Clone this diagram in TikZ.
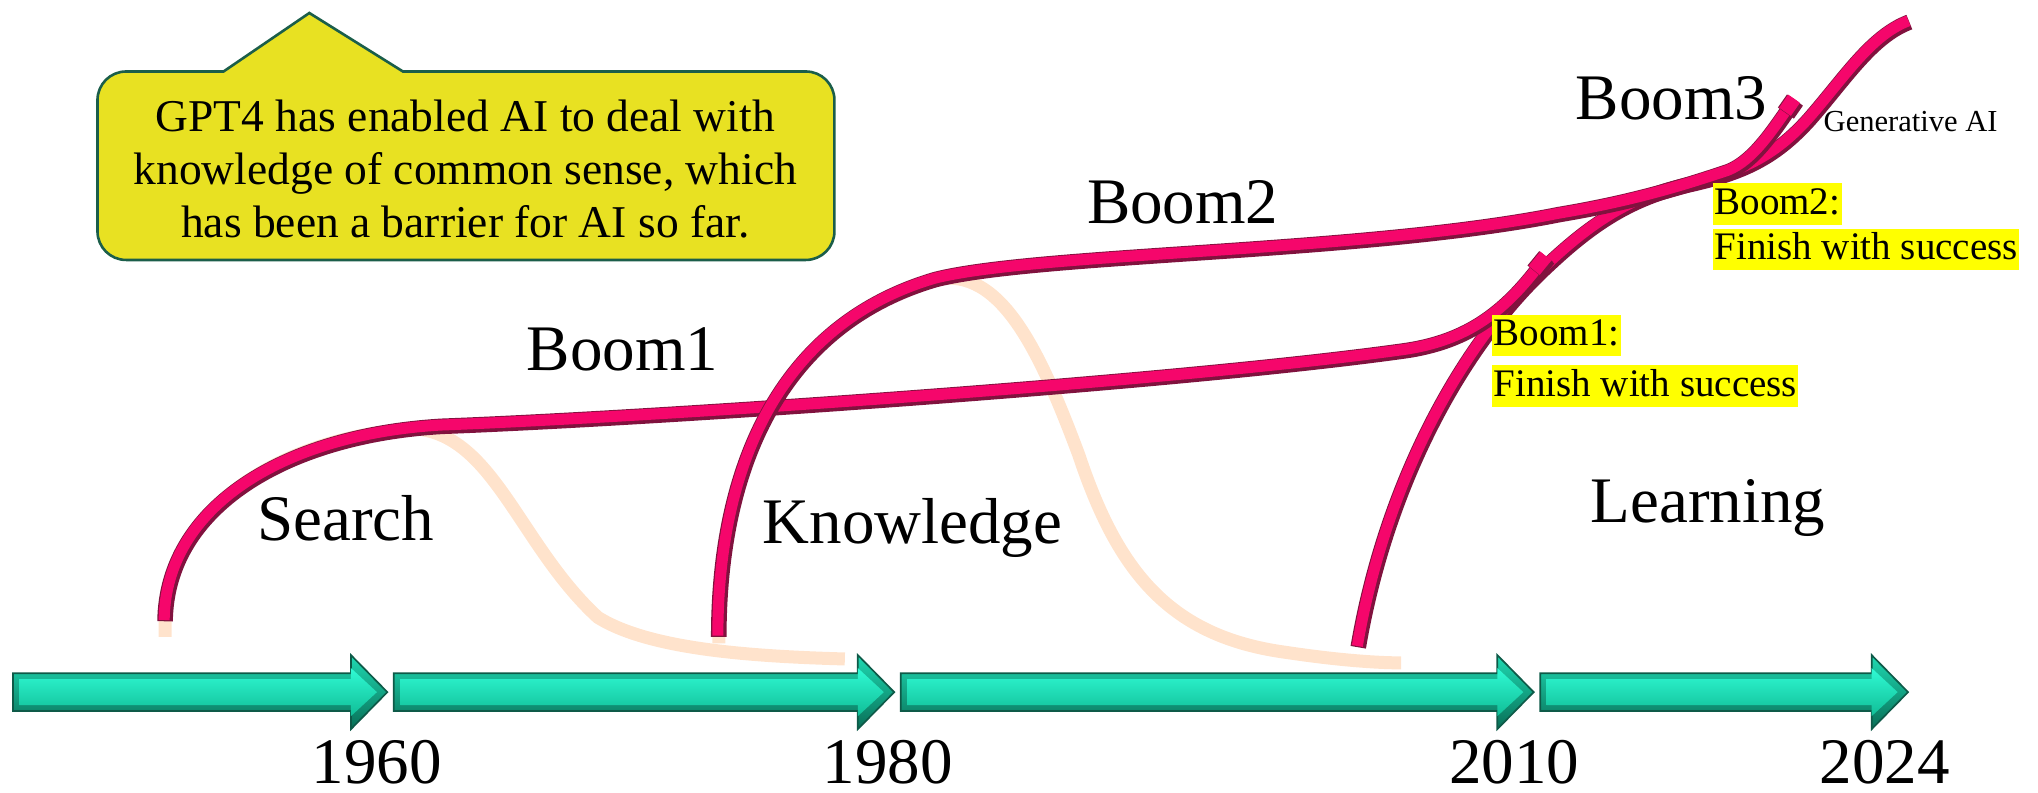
\documentclass[tikz,border=0pt]{standalone}
\usepackage{fontspec}
\setmainfont{Liberation Serif}
\definecolor{tubedark}{HTML}{80123E}
\definecolor{tubepink}{HTML}{F5066B}
\definecolor{peach}{HTML}{FFE3CC}
\definecolor{arrowline}{HTML}{0E5A48}
\definecolor{arrowouttop}{HTML}{1FD9B2}
\definecolor{arrowoutbot}{HTML}{086E56}
\definecolor{arrowtop}{HTML}{30FAD4}
\definecolor{arrowmid}{HTML}{22E6BE}
\definecolor{arrowbot}{HTML}{10BD96}
\definecolor{calloutfill}{HTML}{E8E122}
\definecolor{calloutline}{HTML}{1B5E4A}
\definecolor{hl}{HTML}{FFFF00}
\newcommand\tlarrow[2]{%
  \path[timearrow] (#1,518) -- ({#2-28},518) -- ({#2-28},504) -- (#2,532.5)
    -- ({#2-28},561) -- ({#2-28},547) -- (#1,547) -- cycle;
  \path[timeface] ({#1+5},522.5) -- ({#2-28},522.5) -- ({#2-28},514) -- ({#2-8},532.5)
    -- ({#2-28},551) -- ({#2-28},542.5) -- ({#1+5},542.5) -- cycle;}
\begin{document}
\begin{tikzpicture}[x=1pt,y=-1pt,
  tube/.style={draw=tubedark,line width=12pt,
    postaction={draw=tubepink,line width=8.5pt,transform canvas={shift={(-0.7,-1)}}}},
  tubecap/.style={draw=tubedark,line width=15pt,
    postaction={draw=tubepink,line width=11pt,transform canvas={shift={(-0.7,-1)}}}},
  shadowline/.style={draw=peach,line width=10pt},
  timearrow/.style={draw=arrowline,line width=1.3pt,top color=arrowouttop,
    bottom color=arrowoutbot},
  timeface/.style={top color=arrowtop,middle color=arrowmid,bottom color=arrowbot},
  big/.style={font=\fontsize{50}{60}\selectfont,inner sep=0pt},
  hlbox/.style={fill=hl,inner sep=1pt,text height=23pt,text depth=7pt,
    font=\fontsize{30}{34}\selectfont},
  callout/.style={fill=calloutfill,draw=calloutline,line width=2pt}
]
\useasboundingbox (0,0) rectangle (1568,610);

% timeline
\tlarrow{10}{298}
\tlarrow{303}{688}
\tlarrow{693}{1180}
\tlarrow{1185}{1468}

% peach shadows
\draw[shadowline] (127,490) -- (127,478) .. controls (128,390) and (220,335) .. (320,330)
  .. controls (380,335) and (400,420) .. (460,475) .. controls (500,500) and (580,505) .. (650,507);
\draw[shadowline] (553,495) .. controls (553,360) and (600,250) .. (720,215)
  .. controls (770,205) and (800,270) .. (830,350) .. controls (860,440) and (900,490) .. (990,502)
  .. controls (1030,508) and (1060,510) .. (1078,510);

% tubes
\path[tube] (1045,498) .. controls (1065,380) and (1120,270) .. (1190,205)
  .. controls (1225,172) and (1255,152) .. (1300,142)
  .. controls (1340,133) and (1365,122) .. (1392,92)
  .. controls (1420,60) and (1440,28) .. (1469,17);
\path[tube] (127,478) .. controls (128,390) and (220,335) .. (340,328)
  .. controls (500,322) and (900,295) .. (1080,270)
  .. controls (1130,263) and (1160,240) .. (1190,198);
\path[tubecap] (1181,209) -- (1190,198);
\path[tube] (553,490) .. controls (553,360) and (600,250) .. (720,215)
  .. controls (800,195) and (1050,195) .. (1200,165)
  .. controls (1260,155) and (1300,142) .. (1330,132)
  .. controls (1350,124) and (1365,100) .. (1381,77);
\path[tubecap] (1374,87) -- (1381,77);

% callout
\draw[callout] (172,55) [rounded corners=22] -- (75,55) -- (75,200) -- (642,200)
  -- (642,55) [sharp corners] -- (310,55) -- (238,10) -- cycle;
\node[font=\fontsize{35}{41}\selectfont,align=center,inner sep=0pt] (callouttext) at (358,130)
  {GPT4 has enabled AI to deal with\\knowledge of common sense, which\\has been a barrier for AI so far.};

% big labels
\node[big,anchor=base] (search) at (266,416) {Search};
\node[big,anchor=base] (knowledge) at (702,418) {Knowledge};
\node[big,anchor=base] (learning) at (1314,402) {Learning};
\node[big,anchor=base] (boom1) at (479,285) {Boom1};
\node[big,anchor=base] (boom2) at (910,172) {Boom2};
\node[big,anchor=base] (boom3) at (1286,92) {Boom3};
\node[font=\fontsize{23.5}{28}\selectfont,anchor=base,inner sep=0pt] (genai) at (1470,101) {Generative AI};

% highlighted labels
\node[hlbox,anchor=base west] (b1a) at (1148,266) {Boom1:};
\node[hlbox,anchor=base west] (b1b) at (1148,305) {Finish with success};
\node[hlbox,anchor=base west] (b2a) at (1318,165) {Boom2:};
\node[hlbox,anchor=base west] (b2b) at (1318,200) {Finish with success};

% years
\node[big,anchor=base] (y1960) at (290,603) {1960};
\node[big,anchor=base] (y1980) at (683,603) {1980};
\node[big,anchor=base] (y2010) at (1165,603) {2010};
\node[big,anchor=base] (y2024) at (1450,603) {2024};
\end{tikzpicture}
\end{document}
